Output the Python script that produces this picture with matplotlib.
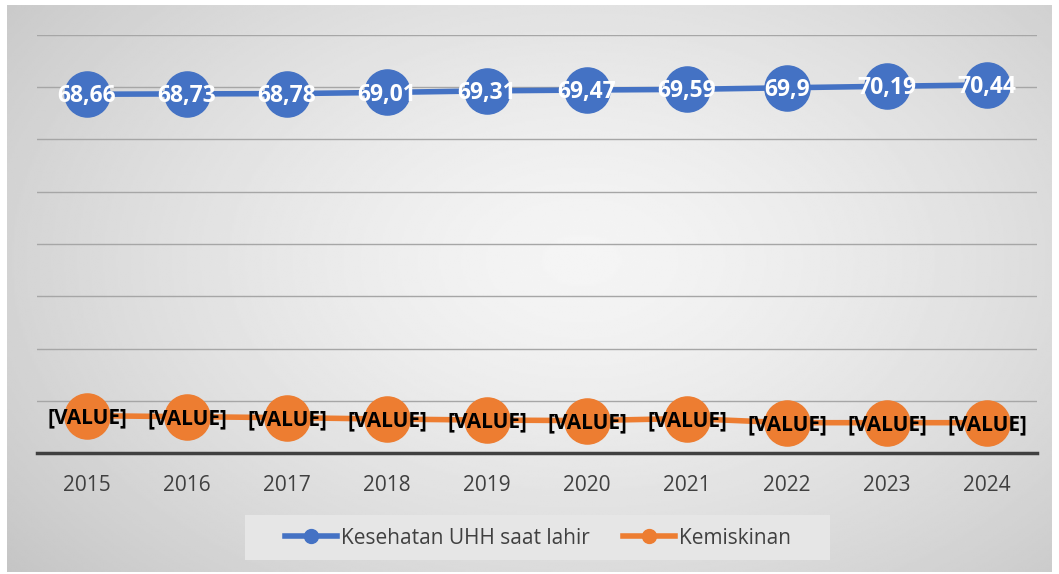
import numpy as np
from matplotlib import pyplot as plt
from matplotlib.lines import Line2D
from matplotlib.patches import Rectangle

# Data
years = ['2015', '2016', '2017', '2018', '2019', '2020', '2021', '2022', '2023', '2024']
uhh = [68.66, 68.73, 68.78, 69.01, 69.31, 69.47, 69.59, 69.90, 70.19, 70.44]
uhh_labels = ['68,66', '68,73', '68,78', '69,01', '69,31', '69,47', '69,59', '69,9', '70,19', '70,44']
kemiskinan = [7.14, 6.95, 6.76, 6.50, 6.30, 6.20, 6.60, 5.80, 5.80, 5.80]
kemiskinan_labels = ['[VALUE]'] * 10

blue = '#4472c4'
orange = '#ed7d31'
font = ['Open Sans', 'DejaVu Sans']

W, H = 1059, 574
fig = plt.figure(figsize=(W / 100, H / 100), dpi=100)
fig.patch.set_facecolor('white')

# gray radial gradient panel
bg = fig.add_axes([7 / W, 2 / H, 1045 / W, 567 / H])
yy, xx = np.mgrid[0:1:300j, 0:1:560j]
r = np.sqrt(((xx - 0.55) / 0.75) ** 2 + ((yy - 0.45) / 0.9) ** 2)
grad = np.clip(0.96 - 0.2 * r ** 1.4, 0.76, 0.96)
bg.imshow(grad, cmap='gray', vmin=0, vmax=1, aspect='auto', extent=[0, 1, 0, 1],
          interpolation='bilinear')
bg.axis('off')

ax = fig.add_axes([37 / W, 1 - 453 / H, 1000 / W, 418 / H])
ax.patch.set_alpha(0)
x = np.arange(len(years))

ax.plot(x, uhh, color=blue, lw=4, marker='o', ms=32.5, zorder=3)
ax.plot(x, kemiskinan, color=orange, lw=4, marker='o', ms=32.5, zorder=3)

for xi, v, s in zip(x, uhh, uhh_labels):
    ax.annotate(s, (xi, v), xytext=(0, -1.5), textcoords='offset points',
                ha='center', va='center', color='white', fontsize=16.5,
                fontweight='bold', family=font, zorder=4)
for xi, v, s in zip(x, kemiskinan, kemiskinan_labels):
    ax.annotate(s, (xi, v), xytext=(0, -1.5), textcoords='offset points',
                ha='center', va='center', color='black', fontsize=15,
                fontweight='bold', family=font, zorder=4)

ax.set_xlim(-0.5, 9.5)
ax.set_ylim(0, 80)
ax.set_yticks(np.arange(0, 81, 10))
ax.yaxis.grid(True, color='#a6a6a6', lw=1)
ax.set_axisbelow(True)
ax.tick_params(axis='y', left=False, labelleft=False)
ax.set_xticks(x)
ax.set_xticklabels(years, fontsize=15, color='#404040', family=font)
ax.tick_params(axis='x', length=0, pad=16)
for side in ['top', 'right', 'left']:
    ax.spines[side].set_visible(False)
ax.spines['bottom'].set_color('#404040')
ax.spines['bottom'].set_linewidth(2.5)

# legend box
fig.patches.append(Rectangle((245 / W, 1 - 560 / H), 585 / W, 45 / H,
                             transform=fig.transFigure, facecolor='#e6e6e6',
                             edgecolor='none', zorder=1))
handles = [Line2D([], [], color=blue, lw=4, marker='o', ms=10),
           Line2D([], [], color=orange, lw=4, marker='o', ms=10)]
fig.legend(handles, ['Kesehatan UHH saat lahir', 'Kemiskinan'], loc='center',
           bbox_to_anchor=(538 / W, 1 - 538 / H), ncol=2, frameon=False,
           handlelength=2.5, handletextpad=0.2, columnspacing=1.6,
           prop={'family': font, 'size': 15}, labelcolor='#404040')

plt.savefig('out.png', dpi=100)
